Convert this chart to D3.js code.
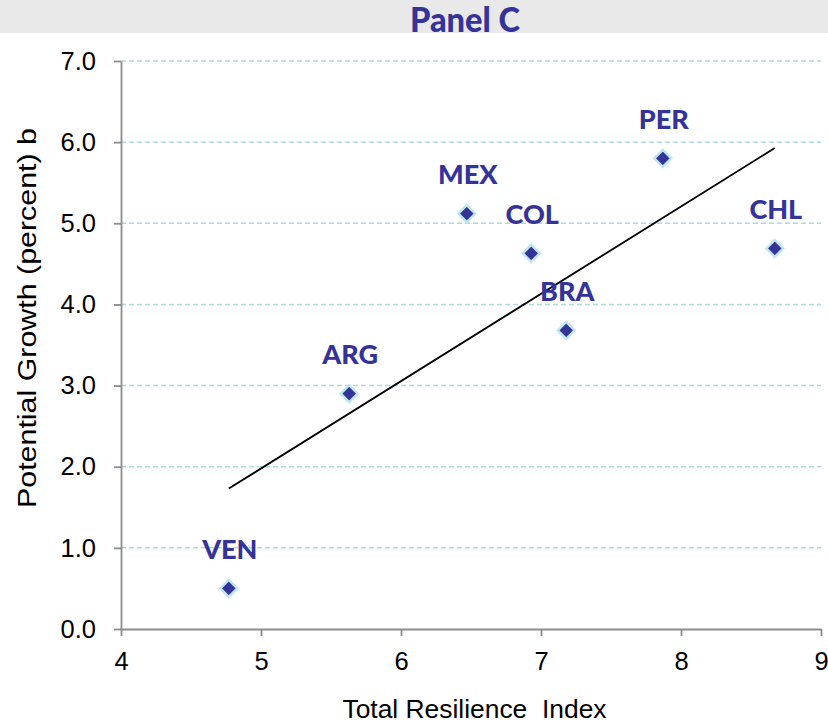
<!DOCTYPE html>
<html>
<head>
<meta charset="utf-8">
<script src="https://cdn.jsdelivr.net/npm/d3@7"></script>
<style>
  html, body { margin: 0; padding: 0; background: #fff; }
  svg { display: block; }
</style>
</head>
<body>
<svg id="chart" width="828" height="724"></svg>
<script>
const countries = ["VEN", "ARG", "MEX", "COL", "BRA", "PER", "CHL"];
const resilience = [4.77, 5.63, 6.47, 6.93, 7.18, 7.87, 8.67];
const growth = [0.50, 2.90, 5.12, 4.63, 3.68, 5.80, 4.69];
const xTicks = [4, 5, 6, 7, 8, 9];
const yTicks = [0, 1, 2, 3, 4, 5, 6, 7];
const titleText = "Panel C";
const xLabel = "Total Resilience  Index";
const yLabel = "Potential Growth (percent) b";

const svg = d3.select("#chart");
const W = 828, H = 724;
const plotLeft = 121, plotRight = 821, plotTop = 61, plotBottom = 629;

const x = d3.scaleLinear().domain([4, 9]).range([plotLeft, plotRight]);
const y = d3.scaleLinear().domain([0, 7]).range([plotBottom, plotTop]);

// title band
svg.append("rect").attr("x", 0).attr("y", 0).attr("width", W).attr("height", 33).attr("fill", "#e9e9e9");
svg.append("text").attr("x", 465).attr("y", 32)
  .attr("text-anchor", "middle")
  .attr("font-family", "Lato, 'Open Sans', sans-serif")
  .attr("font-weight", 900).attr("font-size", 34)
  .attr("fill", "#333399")
  .attr("textLength", 110).attr("lengthAdjust", "spacingAndGlyphs")
  .text(titleText);

// gridlines
svg.append("g").selectAll("line").data(yTicks.filter(d => d > 0)).join("line")
  .attr("x1", plotLeft).attr("x2", plotRight)
  .attr("y1", d => y(d)).attr("y2", d => y(d))
  .attr("stroke", "#a9dbe1").attr("stroke-width", 1.5)
  .attr("stroke-dasharray", "5,3");

// axes
const axisColor = "#8c8c8c";
const fontAxis = "'Liberation Sans', Arial, sans-serif";
const xAxis = svg.append("g").attr("transform", `translate(0,${plotBottom})`)
  .call(d3.axisBottom(x).tickValues(xTicks).tickSize(7).tickSizeOuter(0).tickPadding(16).tickFormat(d3.format("d")));
const yAxis = svg.append("g").attr("transform", `translate(${plotLeft},0)`)
  .call(d3.axisLeft(y).tickValues(yTicks).tickSize(7).tickSizeOuter(0).tickPadding(18).tickFormat(d3.format(".1f")));
[xAxis, yAxis].forEach(g => {
  g.select(".domain").attr("stroke", axisColor).attr("stroke-width", 1.8);
  g.selectAll(".tick line").attr("stroke", axisColor).attr("stroke-width", 1.8);
  g.selectAll(".tick text").attr("fill", "#000").attr("font-family", fontAxis).attr("font-size", 25.5);
});

// axis labels
svg.append("text").attr("x", 474.5).attr("y", 718)
  .attr("text-anchor", "middle").attr("font-family", fontAxis).attr("font-size", 25)
  .attr("textLength", 264).attr("lengthAdjust", "spacingAndGlyphs")
  .style("white-space", "pre")
  .text(xLabel);
svg.append("text").attr("transform", "translate(36,318) rotate(-90)")
  .attr("text-anchor", "middle").attr("font-family", fontAxis).attr("font-size", 25)
  .attr("textLength", 380).attr("lengthAdjust", "spacingAndGlyphs")
  .text(yLabel);

// regression line
const n = resilience.length;
const mx = d3.mean(resilience), my = d3.mean(growth);
let sxy = 0, sxx = 0;
for (let i = 0; i < n; i++) { sxy += (resilience[i] - mx) * (growth[i] - my); sxx += (resilience[i] - mx) ** 2; }
const slope = sxy / sxx, icpt = my - slope * mx;
const [x0, x1] = d3.extent(resilience);
svg.append("line")
  .attr("x1", x(x0)).attr("y1", y(icpt + slope * x0))
  .attr("x2", x(x1)).attr("y2", y(icpt + slope * x1))
  .attr("stroke", "#000").attr("stroke-width", 1.8);

// points
const data = countries.map((c, i) => ({ c, x: resilience[i], y: growth[i] }));
const r = 8.5;
svg.append("g").selectAll("path").data(data).join("path")
  .attr("transform", d => `translate(${x(d.x)},${y(d.y)})`)
  .attr("d", `M0,${-r}L${r},0L0,${r}L${-r},0Z`)
  .attr("fill", "#333399").attr("stroke", "#bfe7ec").attr("stroke-width", 2.5);

// labels
svg.append("g").selectAll("text").data(data).join("text")
  .attr("x", d => x(d.x) + 1).attr("y", d => y(d.y) - 29.5)
  .attr("text-anchor", "middle")
  .attr("font-family", "Lato, 'Open Sans', sans-serif")
  .attr("font-weight", 900).attr("font-size", 27)
  .attr("fill", "#333399")
  .text(d => d.c);
</script>
</body>
</html>
